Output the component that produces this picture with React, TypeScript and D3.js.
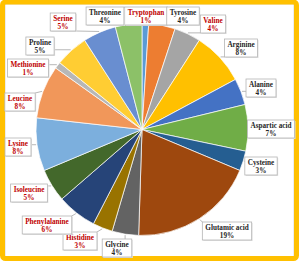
import { useEffect, useRef } from 'react';
import * as d3 from 'd3';

// amino acid composition, clockwise from 12 o'clock
const aminoAcids = [
  'Tryptophan', 'Tyrosine', 'Valine', 'Arginine', 'Alanine', 'Aspartic acid',
  'Cysteine', 'Glutamic acid', 'Glycine', 'Histidine', 'Phenylalanine', 'Isoleucine',
  'Lysine', 'Leucine', 'Methionine', 'Proline', 'Serine', 'Threonine',
];
const percents = [1, 4, 4, 8, 4, 7, 3, 19, 4, 3, 6, 5, 8, 8, 1, 5, 5, 4];
const highlighted = [
  'Tryptophan', 'Valine', 'Histidine', 'Phenylalanine', 'Isoleucine',
  'Lysine', 'Leucine', 'Methionine', 'Serine',
];

const sliceColors = [
  '#5B9BD5', '#ED7D31', '#A5A5A5', '#FFC000', '#4472C4', '#70AD47',
  '#255E91', '#9E480E', '#636363', '#997300', '#264478', '#43682B',
  '#7CAFDD', '#F1975A', '#B7B7B7', '#FFCD33', '#698ED0', '#8CC168',
];

// callout box centres (layout only)
const labelCenters: [number, number][] = [
  [146, 16], [183, 16], [213, 24], [241, 48], [261, 88], [271, 129],
  [261, 166], [227, 231], [117, 248], [80, 241], [47, 225], [29, 193],
  [18, 147], [20, 102], [28, 68], [40, 46], [63, 22], [105, 16],
];

export default function App() {
  const svgRef = useRef<SVGSVGElement>(null);
  const width = 300;
  const height = 263;

  useEffect(() => {
    if (!svgRef.current) return;
    const svg = d3.select(svgRef.current);
    svg.selectAll('*').remove();

    // frame
    svg.append('rect')
      .attr('x', 5).attr('y', 4).attr('width', 289).attr('height', 253)
      .attr('fill', '#fff').attr('stroke', '#d9d9d9').attr('stroke-width', 1);
    svg.append('rect')
      .attr('x', 2.5).attr('y', 2).attr('width', 294).attr('height', 256.5)
      .attr('rx', 3)
      .attr('fill', 'none').attr('stroke', '#FFC000').attr('stroke-width', 5);

    const cx = 142;
    const cy = 129.5;
    const R = 106;

    const data = aminoAcids.map((name, i) => ({ name, value: percents[i], i }));
    const pie = d3.pie<typeof data[number]>()
      .sort(null)
      .value(d => d.value)
      .startAngle(0)
      .endAngle(2 * Math.PI);
    const arcs = pie(data);
    const arc = d3.arc<d3.PieArcDatum<typeof data[number]>>().innerRadius(0).outerRadius(R);
    const edge = d3.arc<d3.PieArcDatum<typeof data[number]>>().innerRadius(R + 1).outerRadius(R + 1);

    const g = svg.append('g').attr('transform', `translate(${cx},${cy})`);
    g.selectAll('path')
      .data(arcs)
      .enter()
      .append('path')
      .attr('d', arc)
      .attr('fill', d => sliceColors[d.data.i])
      .attr('stroke', '#fff')
      .attr('stroke-width', 0.7);

    // callouts
    const labels = svg.append('g')
      .style('font-family', '"Liberation Serif", "Times New Roman", serif')
      .style('font-weight', 'bold')
      .style('font-size', '7.2px');

    arcs.forEach(d => {
      const [lx, ly] = labelCenters[d.data.i];
      const color = highlighted.includes(d.data.name) ? '#C00000' : '#262626';
      const lg = labels.append('g');
      const shadow = lg.append('rect');
      const box = lg.append('rect');
      const t1 = lg.append('text')
        .attr('x', lx).attr('y', ly - 1.5)
        .attr('text-anchor', 'middle').attr('fill', color)
        .text(d.data.name);
      lg.append('text')
        .attr('x', lx).attr('y', ly + 6.5)
        .attr('text-anchor', 'middle').attr('fill', color)
        .text(`${d.data.value}%`);
      const w = (t1.node() as SVGTextElement).getComputedTextLength() + 6;
      const h = 18;
      const bx = lx - w / 2;
      const by = ly - h / 2;
      shadow.attr('x', bx + 1).attr('y', by + 1).attr('width', w).attr('height', h)
        .attr('fill', '#e3e3e3');
      box.attr('x', bx).attr('y', by).attr('width', w).attr('height', h)
        .attr('fill', '#fff').attr('stroke', '#b5b5b5').attr('stroke-width', 0.8);

      const [ex, ey] = edge.centroid(d);
      const px = ex + cx;
      const py = ey + cy;
      const qx = Math.max(bx, Math.min(bx + w, px));
      const qy = Math.max(by, Math.min(by + h, py));
      labels.insert('line', ':first-child')
        .attr('x1', px).attr('y1', py).attr('x2', qx).attr('y2', qy)
        .attr('stroke', '#999').attr('stroke-width', 0.7);
    });
  }, []);

  return (
    <svg
      ref={svgRef}
      width={width}
      height={height}
      style={{ position: 'absolute', left: 0, top: 0 }}
    />
  );
}
